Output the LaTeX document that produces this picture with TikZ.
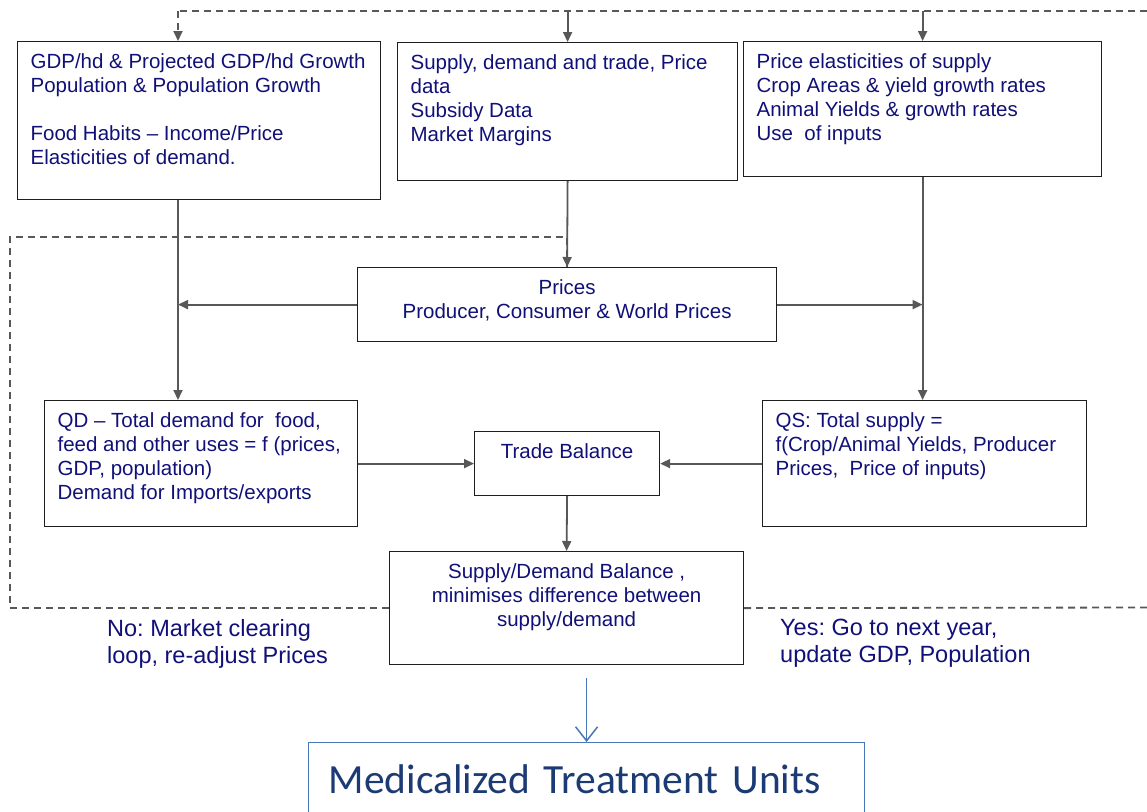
\documentclass[tikz,border=0pt]{standalone}
\usepackage{fontspec}
\setmainfont{Liberation Sans}
\newfontfamily\calfont{Carlito}
\usetikzlibrary{arrows.meta,calc}
\frenchspacing
\definecolor{navytext}{RGB}{16,16,120}
\definecolor{linegray}{RGB}{88,88,88}
\definecolor{boxline}{RGB}{30,30,30}
\definecolor{mtublue}{RGB}{72,118,182}
\definecolor{mtutext}{RGB}{28,58,115}
% box bodies: fixed size, text from the top
\newcommand{\lbody}[3]{\parbox[t][#2][t]{#1}{\begin{tabular}[t]{@{}l@{}}#3\end{tabular}}}
\newcommand{\cbody}[3]{\parbox[t][#2][t]{#1}{\centering\begin{tabular}[t]{@{}c@{}}#3\end{tabular}}}
\tikzset{
  panel/.style={draw=boxline,line width=1.2pt,anchor=north west,inner xsep=13pt,inner ysep=10pt,
    text=navytext,font=\fontsize{20.5}{24}\selectfont},
  conn/.style={draw=linegray,line width=1.8pt,-{Triangle[length=10pt,width=9pt]}},
  dashline/.style={draw=linegray,line width=1.8pt,dash pattern=on 7pt off 5pt},
  dashconn/.style={dashline,-{Triangle[length=10pt,width=9pt]}},
  outconn/.style={draw=mtublue,line width=1.5pt,-{Straight Barb[length=14pt,width=22pt]}},
  note/.style={anchor=base west,inner sep=0pt,text=navytext,font=\fontsize{23.5}{27}\selectfont}
}

\begin{document}
\begin{tikzpicture}[x=1pt,y=-1pt]
\useasboundingbox (0,0) rectangle (1147,811);
\node[panel] (gdp) at (17,41) {\lbody{337pt}{138pt}{GDP/hd \& Projected GDP/hd Growth\\ Population \& Population Growth\\ \\ Food Habits – Income/Price\\ Elasticities of demand.}};
\node[panel] (supply) at (397,42) {\lbody{314pt}{118pt}{Supply, demand and trade, Price\\ data\\ Subsidy Data\\ Market Margins}};
\node[panel] (elast) at (743,41) {\lbody{332pt}{115pt}{Price elasticities of supply\\ Crop Areas \& yield growth rates\\ Animal Yields \& growth rates\\ Use\ \ of inputs}};
\node[panel] (prices) at (357,267) {\cbody{393pt}{54pt}{Prices\\ Producer, Consumer \& World Prices}};
\node[panel] (qd) at (44,400) {\lbody{287pt}{106pt}{QD – Total demand for\ \ food,\\ feed and other uses = f (prices,\\ GDP, population)\\ Demand for Imports/exports}};
\node[panel] (tb) at (474,431) {\cbody{159pt}{44pt}{Trade Balance}};
\node[panel] (qs) at (762,400) {\lbody{298pt}{106pt}{QS: Total supply =\\ f(Crop/Animal Yields, Producer\\ Prices,\ \ Price of inputs)}};
\node[panel] (sd) at (389,551) {\cbody{328pt}{93pt}{Supply/Demand Balance ,\\ minimises difference between\\ supply/demand}};
\node[draw=mtublue,line width=1.2pt,anchor=north west,minimum height=74pt,text width=516pt,
  inner xsep=20pt,inner ysep=0pt,align=left,text=mtutext,font=\calfont\fontsize{41.5}{48}\selectfont]
  (mtu) at (308,742) {Medicalized Treatment Units};
\node[note] (noloop) at (107,636) {\begin{tabular}[t]{@{}l@{}}No: Market clearing\\ loop, re-adjust Prices\end{tabular}};
\node[note] (yesnext) at (780,635) {\begin{tabular}[t]{@{}l@{}}Yes: Go to next year,\\ update GDP, Population\end{tabular}};

\coordinate (fbtop) at (178,11);
\coordinate (fbend) at (1147,11);
\coordinate (loopcorner) at (10,237);
\coordinate (yesend) at (1147,607.5);
\coordinate (outstart) at ([yshift=-13pt]sd.south);

% next year loop feeding the inputs
\draw[dashline] (fbend) -- (fbtop);
\draw[dashconn] (fbtop) -- (fbtop |- gdp.north);
\draw[conn] (supply.north |- fbtop) -- (supply.north);
\draw[conn] (elast.north |- fbtop) -- (elast.north);
\draw[dashline] (sd.east) -- (yesend);

\draw[conn] (fbtop |- gdp.south) -- (fbtop |- qd.north);
\draw[conn] (supply.south) -- (prices.north);
\draw[conn] (elast.south) -- (elast.south |- qs.north);
\draw[conn] (prices.west) -- (fbtop |- prices.west);
\draw[conn] (prices.east) -- (elast.south |- prices.east);
\draw[conn] (qd.east) -- (tb.west);
\draw[conn] (qs.west) -- (tb.east);
\draw[conn] (tb.south) -- (sd.north);

% market clearing loop
\draw[dashline] (sd.west) -| (loopcorner) -| (prices.north);

\draw[outconn] (outstart -| mtu.north) -- (mtu.north);
\end{tikzpicture}
\end{document}
